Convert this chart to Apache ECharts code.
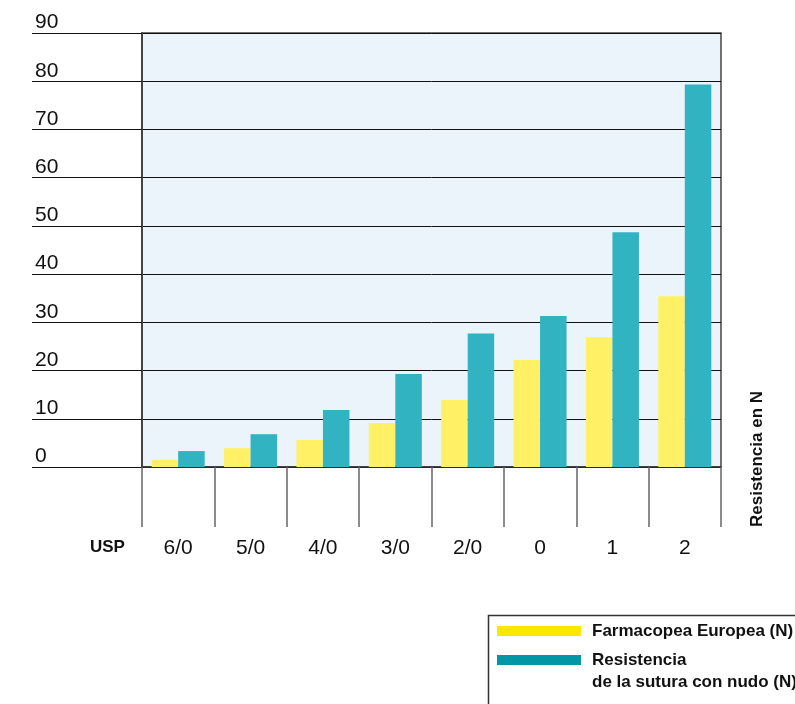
<!DOCTYPE html>
<html>
<head>
<meta charset="utf-8">
<script src="https://cdn.jsdelivr.net/npm/echarts@6/dist/echarts.min.js"></script>
<style>html,body{margin:0;padding:0;background:#fff}#c{width:795px;height:704px}</style>
</head>
<body>
<div id="c"></div>
<script>
const categories = ['6/0', '5/0', '4/0', '3/0', '2/0', '0', '1', '2'];
const farmacopea = [1.5, 3.9, 5.6, 9.1, 13.9, 22.2, 26.9, 35.4];
const resistencia = [3.3, 6.8, 11.8, 19.3, 27.7, 31.3, 48.7, 79.3];
const yTicks = [0, 10, 20, 30, 40, 50, 60, 70, 80, 90];
const nameA = 'Farmacopea Europea (N)';
const nameB = 'Resistencia de la sutura con nudo (N)';

const chart = echarts.init(document.getElementById('c'));
const font = 'Liberation Sans, Arial, Helvetica, sans-serif';
chart.setOption({
  animation: false,
  textStyle: { fontFamily: font },
  grid: {
    left: 142, right: 74, top: 33, bottom: 237,
    show: true, backgroundColor: '#ebf4fa', borderColor: '#444', borderWidth: 1.5
  },
  xAxis: {
    type: 'category',
    data: categories,
    axisLine: { show: true, lineStyle: { color: '#333', width: 1.5 } },
    axisTick: { show: true, length: 60, lineStyle: { color: '#666', width: 1.5 } },
    axisLabel: { margin: 71, fontSize: 21, color: '#111', fontFamily: font }
  },
  yAxis: {
    type: 'value',
    min: yTicks[0], max: yTicks[yTicks.length - 1], interval: 10,
    axisLine: { show: true, lineStyle: { color: '#444', width: 2 } },
    axisTick: { show: true, length: 110, lineStyle: { color: '#111', width: 1 } },
    splitLine: { show: true, lineStyle: { color: '#111', width: 1 } },
    axisLabel: {
      align: 'left', verticalAlign: 'bottom', margin: 107,
      fontSize: 21, lineHeight: 21, color: '#111', fontFamily: font
    }
  },
  legend: [
    {
      left: 497, top: 621, padding: 0, orient: 'vertical',
      itemWidth: 84, itemHeight: 10, icon: 'rect',
      data: [{ name: nameA, itemStyle: { color: '#ffe600' } }],
      textStyle: { fontSize: 17, fontWeight: 'bold', color: '#111', lineHeight: 20, padding: [0, 0, 0, 6], fontFamily: font }
    },
    {
      left: 497, top: 627, padding: 0, orient: 'vertical',
      itemWidth: 84, itemHeight: 10, icon: 'rect',
      data: [{ name: nameB, itemStyle: { color: '#0096a6' } }],
      formatter: function () { return ' \nResistencia\nde la sutura con nudo (N)'; },
      textStyle: { fontSize: 17, fontWeight: 'bold', color: '#111', lineHeight: 22, padding: [0, 0, 0, 6], fontFamily: font }
    }
  ],
  graphic: [
    {
      type: 'rect', left: 486, top: 613, silent: true,
      shape: { width: 400, height: 200 },
      style: { fill: 'none', stroke: '#333', lineWidth: 1.5 }
    },
    {
      type: 'text', left: 90, top: 539,
      style: { text: 'USP', fontSize: 17, fontWeight: 'bold', fill: '#111', fontFamily: font }
    },
    {
      type: 'text', x: 757, y: 459, rotation: Math.PI / 2,
      style: { text: 'Resistencia en N', fontSize: 17, fontWeight: 'bold', fill: '#111', fontFamily: font, align: 'center', verticalAlign: 'middle' }
    }
  ],
  series: [
    {
      name: nameA, type: 'bar', data: farmacopea, barWidth: 26.5, barGap: '0%',
      itemStyle: { color: '#fff066' }
    },
    {
      name: nameB, type: 'bar', data: resistencia, barWidth: 26.5, barGap: '0%',
      itemStyle: { color: '#31b3c2' }
    }
  ]
});
</script>
</body>
</html>
